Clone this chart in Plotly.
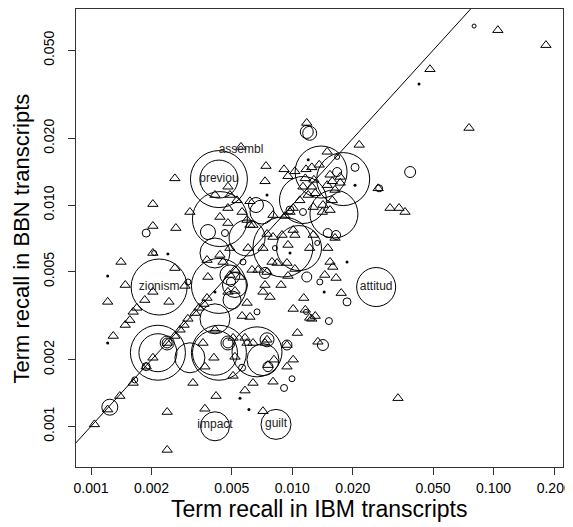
import plotly.graph_objects as go

# ---------------- data ----------------
x_ticks = [0.001, 0.002, 0.005, 0.01, 0.02, 0.05, 0.1, 0.2]
x_tick_text = ["0.001", "0.002", "0.005", "0.010", "0.020", "0.050", "0.100", "0.200"]
y_ticks = [0.001, 0.002, 0.005, 0.01, 0.02, 0.05]
y_tick_text = ["0.001", "0.002", "0.005", "0.010", "0.020", "0.050"]

# equal-recall reference line y = x
line_xy = [0.0008, 0.3]

# terms drawn as triangles
tri_ibm = [0.105, 0.182, 0.0483, 0.0755, 0.0215, 0.0118, 0.00556, 0.0306, 0.0339, 0.0363, 0.0267,
           0.0150, 0.0154, 0.0159, 0.0165, 0.0145, 0.0114, 0.0175, 0.0125, 0.0130, 0.0134, 0.0335, 0.0122, 0.0127, 0.0163,
           0.0074, 0.0091, 0.0103, 0.0117, 0.0125, 0.0136, 0.0149, 0.00732, 0.00952, 0.0116,
           0.0128, 0.0154, 0.0158, 0.0173, 0.0173, 0.0163, 0.0113, 0.0125, 0.0120, 0.0109,
           0.0130, 0.0149, 0.0158, 0.0142, 0.0154, 0.0127, 0.0101, 0.00974, 0.00802, 0.0092,
           0.00261, 0.00203, 0.00479, 0.00413, 0.0049, 0.00531, 0.00616, 0.00479, 0.00563, 0.0031, 0.00437,
           0.00203, 0.00264, 0.00479, 0.00596, 0.00616, 0.0141, 0.00638, 0.00749, 0.00802, 0.00889,
           0.0101, 0.00952, 0.00715, 0.00793, 0.0084, 0.00941, 0.00631, 0.00676, 0.00749, 0.0103,
           0.00952, 0.00879, 0.00732, 0.00715, 0.00775, 0.0101,
           0.00203, 0.00261, 0.00377, 0.00437, 0.0049, 0.00603, 0.0049, 0.0055, 0.00519, 0.00293,
           0.00203, 0.00185, 0.00244, 0.00377, 0.00519, 0.00479, 0.00596, 0.00169, 0.00162,
           0.00104, 0.00139, 0.00121, 0.00162, 0.00188, 0.00203, 0.00239, 0.00261, 0.00277, 0.0029,
           0.00303, 0.00329, 0.00344, 0.00364, 0.00141, 0.00148, 0.00121, 0.00129, 0.00148, 0.00156,
           0.00239, 0.00239, 0.00368, 0.00418, 0.00582, 0.00715, 0.00321, 0.00368, 0.00508, 0.00638,
           0.00802, 0.00941, 0.0106, 0.00519, 0.00408, 0.0036, 0.00413, 0.00616, 0.00508, 0.00732,
           0.0103, 0.0116, 0.00757, 0.00638, 0.00582, 0.00563, 0.0122, 0.00596, 0.00749, 0.00941,
           0.00811, 0.0101, 0.00453, 0.00381]
tri_bbn = [0.0617, 0.0528, 0.0411, 0.0223, 0.0187, 0.0235, 0.0183, 0.00969, 0.00969, 0.0093, 0.0119,
           0.00639, 0.00553, 0.00525, 0.00468, 0.00483, 0.0038, 0.0040, 0.00306, 0.00315, 0.00241, 0.00134, 0.00639, 0.00732, 0.0071,
           0.0150, 0.0145, 0.0142, 0.0145, 0.0148, 0.0152, 0.0174, 0.0128, 0.0135, 0.0132,
           0.0130, 0.0137, 0.0128, 0.0134, 0.0126, 0.0117, 0.0121, 0.0121, 0.0111, 0.0105,
           0.0113, 0.0123, 0.0105, 0.0100, 0.00949, 0.00979, 0.00969, 0.0093, 0.00901, 0.00892,
           0.0132, 0.0101, 0.0121, 0.0111, 0.0111, 0.0105, 0.0104, 0.00969, 0.0093, 0.0093, 0.00883,
           0.00804, 0.00787, 0.00829, 0.00856, 0.00812, 0.0093, 0.00812, 0.0074, 0.00717, 0.00732,
           0.00771, 0.0066, 0.00639, 0.00553, 0.00547, 0.00547, 0.00509, 0.00509, 0.00498, 0.00514,
           0.00478, 0.00435, 0.00435, 0.00405, 0.00384, 0.00339,
           0.00607, 0.00519, 0.00564, 0.00595, 0.00639, 0.00639, 0.00483, 0.00473, 0.00509, 0.00431,
           0.00405, 0.00372, 0.00365, 0.0038, 0.00409, 0.00405, 0.00361, 0.00343, 0.00329,
           0.00102, 0.00137, 0.00119, 0.00157, 0.00186, 0.00204, 0.00238, 0.00256, 0.00273, 0.00287,
           0.00306, 0.00325, 0.00343, 0.00357, 0.00553, 0.00435, 0.00365, 0.00256, 0.00287, 0.00302,
           0.00116, 0.000782, 0.0012, 0.00137, 0.00145, 0.00117, 0.00157, 0.00186, 0.00169, 0.00157,
           0.00159, 0.00186, 0.00264, 0.00206, 0.00204, 0.00238, 0.00273, 0.00312, 0.00251, 0.00238,
           0.00732, 0.00336, 0.00189, 0.00238, 0.00251, 0.00315, 0.00309, 0.00238, 0.00246, 0.00233,
           0.002, 0.002, 0.00553, 0.00473]

# terms drawn as circles, with circle diameter
circ_ibm = [0.00432, 0.00432, 0.00437, 0.00218, 0.00432, 0.00413, 0.00215, 0.00215, 0.0031, 0.00413,
            0.00432, 0.00413, 0.00668, 0.00715, 0.00899, 0.0108, 0.0139, 0.0179, 0.0113, 0.0161,
            0.00707, 0.0261, 0.00413, 0.0083, 0.0049, 0.00519, 0.00502, 0.00596, 0.00124, 0.00239,
            0.00239, 0.0066, 0.00381, 0.00479, 0.00479, 0.00749, 0.0118, 0.0122, 0.0385, 0.0142,
            0.00732, 0.0118, 0.00941, 0.00757, 0.0205, 0.0167, 0.00188, 0.00206, 0.00303, 0.00463,
            0.00569, 0.00496, 0.0137, 0.0187, 0.0117, 0.0152, 0.0150, 0.0165, 0.0133, 0.0082,
            0.00668, 0.00563, 0.00997, 0.0091, 0.027, 0.0167, 0.00165, 0.00188, 0.00974, 0.0113,
            0.08]
circ_bbn = [0.0131, 0.0131, 0.00864, 0.00426, 0.00431, 0.00607, 0.00215, 0.00215, 0.00204, 0.00215,
            0.00215, 0.00306, 0.00217, 0.002, 0.00646, 0.00639, 0.0141, 0.0131, 0.01054, 0.00911,
            0.0093, 0.00426, 0.001, 0.00102, 0.00483, 0.00435, 0.00372, 0.0071, 0.00122, 0.00238,
            0.00238, 0.01, 0.00755, 0.00238, 0.00238, 0.00246, 0.0214, 0.0211, 0.0141, 0.00233,
            0.00493, 0.00473, 0.00233, 0.00186, 0.0148, 0.0141, 0.00747, 0.00607, 0.00449, 0.00747,
            0.00553, 0.00449, 0.00449, 0.00365, 0.00329, 0.00299, 0.00747, 0.00732, 0.00674, 0.00639,
            0.00329, 0.00184, 0.00164, 0.00149, 0.0119, 0.0165, 0.00162, 0.00186, 0.00949, 0.0093,
            0.0644]
circ_diam = [38, 57, 55, 56, 55, 30, 55, 38, 30, 45,
             55, 30, 50, 32, 60, 45, 52, 53, 47, 48,
             24, 39, 29, 30, 20, 25, 18, 36, 16, 14,
             10, 15, 15, 14, 10, 14, 13, 14, 11, 11,
             11, 10, 10, 10, 8, 9, 8, 5, 6, 7,
             6, 9, 6, 8, 5, 7, 9, 9, 5, 5,
             6, 7, 6, 7, 7, 5, 6, 8, 8, 7,
             4]

# tiny dots
dot_ibm = [0.0426, 0.00121, 0.00121, 0.00241, 0.0055, 0.00609, 0.0187, 0.00749, 0.012, 0.00974, 0.00413, 0.0205, 0.0144]
dot_bbn = [0.0352, 0.00478, 0.00238, 0.00601, 0.00134, 0.00119, 0.00553, 0.0111, 0.016, 0.00607, 0.00405, 0.0123, 0.00405]

# labelled terms
label_words = ["assembl", "previou", "zionism", "attitud", "impact", "guilt"]
label_ibm = [0.00556, 0.00432, 0.00218, 0.0261, 0.00413, 0.0083]
label_bbn = [0.0177, 0.0131, 0.00426, 0.00426, 0.00101, 0.00102]

assert len(tri_ibm) == len(tri_bbn)
assert len(circ_ibm) == len(circ_bbn) == len(circ_diam)
assert len(dot_ibm) == len(dot_bbn)

FONT = "Liberation Sans, Arial, Helvetica, sans-serif"

fig = go.Figure()
fig.add_trace(go.Scatter(x=line_xy, y=line_xy, mode="lines",
                         line=dict(color="black", width=1), hoverinfo="skip"))
fig.add_trace(go.Scatter(x=circ_ibm, y=circ_bbn, mode="markers",
                         marker=dict(symbol="circle-open", size=circ_diam, color="black",
                                     opacity=1, line=dict(width=1))))
fig.add_trace(go.Scatter(x=tri_ibm, y=tri_bbn, mode="markers",
                         marker=dict(symbol="triangle-up-open", size=9, color="black",
                                     opacity=1, line=dict(width=1))))
fig.add_trace(go.Scatter(x=dot_ibm, y=dot_bbn, mode="markers",
                         marker=dict(symbol="circle", size=3, color="black", opacity=1)))
fig.add_trace(go.Scatter(x=label_ibm, y=label_bbn, mode="text", text=label_words,
                         textposition="middle center",
                         textfont=dict(family=FONT, size=12, color="#222222")))

axis_common = dict(type="log", showgrid=False, zeroline=False, showline=True,
                   linecolor="#333333", linewidth=1, mirror=True, ticks="outside",
                   ticklen=7, tickcolor="#333333", tickwidth=1, automargin=False,
                   tickfont=dict(family=FONT, size=14, color="black"))

# the page body adds an 8 px offset, so margins are reduced by 8 px on the left/top
fig.update_layout(
    template="none",
    width=573, height=519,
    margin=dict(l=68, r=18, t=1, b=60, autoexpand=False),
    paper_bgcolor="white", plot_bgcolor="white",
    showlegend=False,
    xaxis=dict(range=[-3.0745, -0.6552], tickvals=x_ticks, ticktext=x_tick_text,
               ticklabelstandoff=1, ticklabeloverflow="allow", **axis_common),
    yaxis=dict(range=[-3.184, -1.114], tickvals=y_ticks, ticktext=y_tick_text,
               tickangle=-90, ticklabelstandoff=8, **axis_common),
    annotations=[
        dict(text="Term recall in IBM transcripts", xref="paper", yref="paper",
             x=0.5, y=-0.092, xanchor="center", yanchor="middle", showarrow=False,
             font=dict(family=FONT, size=23, color="black")),
        dict(text="Term recall in BBN transcripts", xref="paper", yref="paper",
             x=-0.112, y=0.5, xanchor="center", yanchor="middle", showarrow=False,
             textangle=-90, font=dict(family=FONT, size=22, color="black")),
    ],
)

fig.write_html("out.html")
